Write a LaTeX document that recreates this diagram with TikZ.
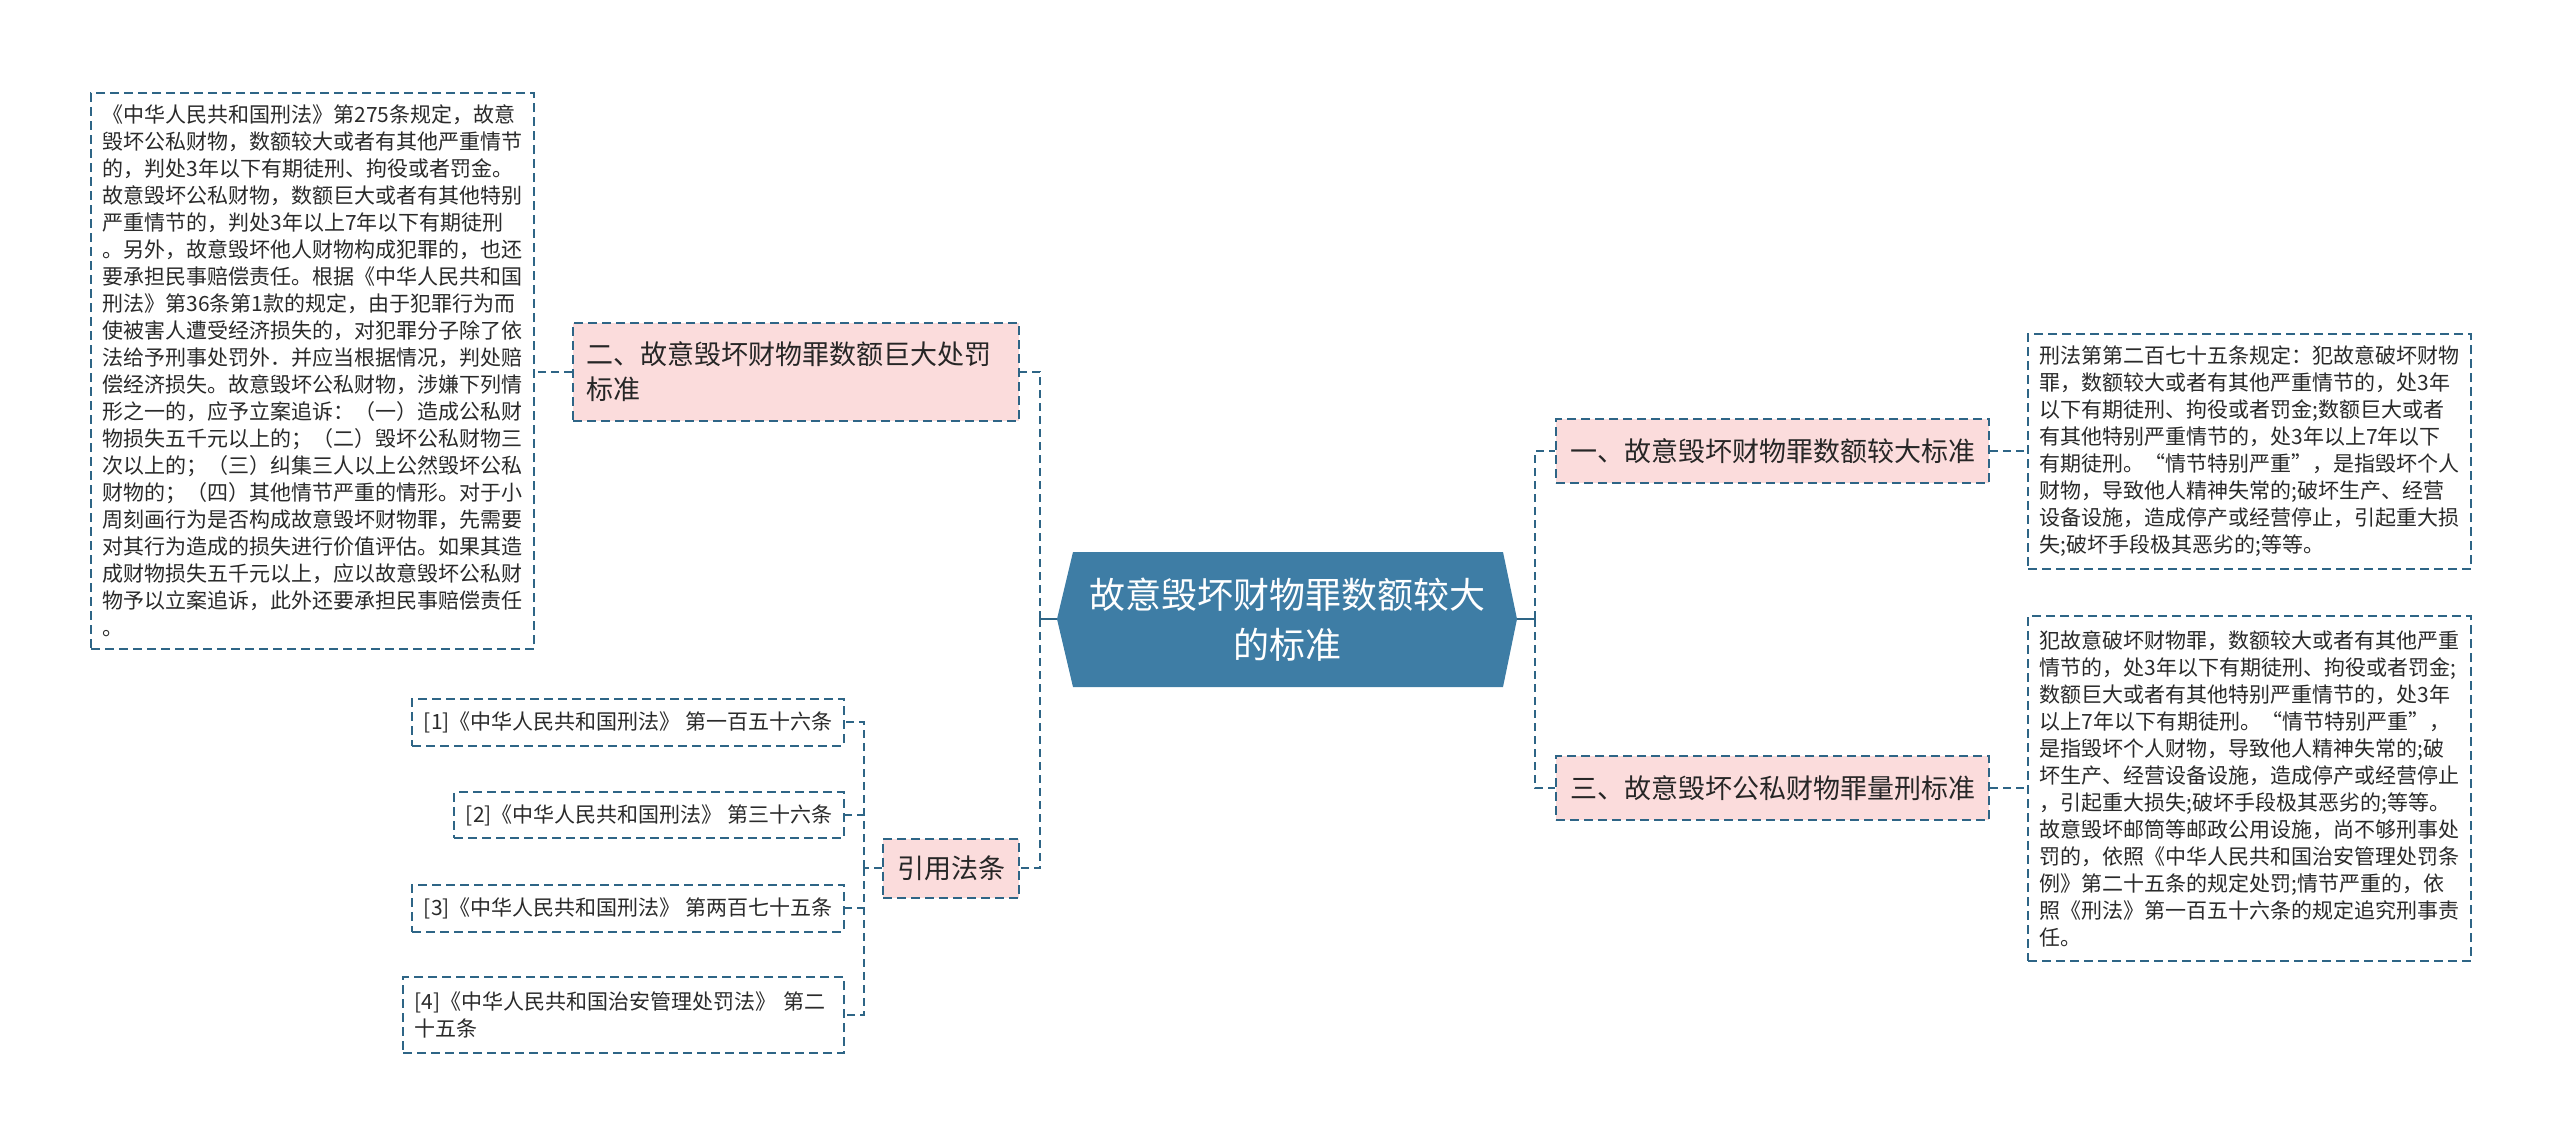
\documentclass[tikz,border=0pt]{standalone}
\usepackage{fontspec}
\setmainfont{Noto Sans CJK SC}
\usetikzlibrary{calc}
\definecolor{lineblue}{HTML}{2E6586}
\definecolor{centerfill}{HTML}{3E7DA5}
\definecolor{pinkfill}{HTML}{FBDCDC}
\definecolor{textgray}{HTML}{2A2A2A}
\tikzset{
  conn/.style={draw=lineblue, line width=2pt, dash pattern=on 8pt off 5pt},
  connsolid/.style={draw=lineblue, line width=2.5pt},
  leafbox/.style={draw=lineblue, line width=2pt, dash pattern=on 9pt off 5pt, fill=white,
    inner xsep=11.5pt, inner ysep=4pt, font=\fontsize{21}{27}\selectfont, text=textgray, align=left},
  topicbox/.style={draw=lineblue, line width=2pt, dash pattern=on 9pt off 5pt, fill=pinkfill,
    inner xsep=14pt, inner ysep=4pt, font=\fontsize{27}{35}\selectfont, text=black!85, align=left},
  centertext/.style={text=white, align=center, font=\fontsize{36}{50}\selectfont, inner sep=0pt},
}
\begin{document}
\begin{tikzpicture}[x=1pt,y=-1pt]
\useasboundingbox (0,0) rectangle (2560,1143);
% central hexagon
\coordinate (cl) at (1057,619);
\coordinate (ctl) at (1073,552);
\coordinate (ctr) at (1503,552);
\coordinate (cr) at (1517,619);
\coordinate (cbr) at (1503,687);
\coordinate (cbl) at (1073,687);
\fill[centerfill] (cl) -- (ctl) -- (ctr) -- (cr) -- (cbr) -- (cbl) -- cycle;
\node[centertext] (c) at (1287,620) {故意毁坏财物罪数额较大\\的标准};

% topic nodes
\node[topicbox, anchor=west, minimum height=64pt] (n1) at (1555,451) {一、故意毁坏财物罪数额较大标准};
\node[topicbox, anchor=west, minimum height=64pt] (n3) at (1555,788) {三、故意毁坏公私财物罪量刑标准};
\node[topicbox, anchor=north west, text width=420pt, minimum height=98pt, inner xsep=13pt] (n2) at (572,322) {二、故意毁坏财物罪数额巨大处罚\\标准};
\node[topicbox, anchor=east, minimum height=59pt] (nr) at (1020,868) {引用法条};

% leaf text boxes
\node[leafbox, anchor=north west, text width=420pt, minimum height=556pt] (t2) at (90,92) {《中华人民共和国刑法》第275条规定，故意\\
毁坏公私财物，数额较大或者有其他严重情节\\
的，判处3年以下有期徒刑、拘役或者罚金。\\
故意毁坏公私财物，数额巨大或者有其他特别\\
严重情节的，判处3年以上7年以下有期徒刑\\
。另外，故意毁坏他人财物构成犯罪的，也还\\
要承担民事赔偿责任。根据《中华人民共和国\\
刑法》第36条第1款的规定，由于犯罪行为而\\
使被害人遭受经济损失的，对犯罪分子除了依\\
法给予刑事处罚外．并应当根据情况，判处赔\\
偿经济损失。故意毁坏公私财物，涉嫌下列情\\
形之一的，应予立案追诉：（一）造成公私财\\
物损失五千元以上的；（二）毁坏公私财物三\\
次以上的；（三）纠集三人以上公然毁坏公私\\
财物的；（四）其他情节严重的情形。对于小\\
周刻画行为是否构成故意毁坏财物罪，先需要\\
对其行为造成的损失进行价值评估。如果其造\\
成财物损失五千元以上，应以故意毁坏公私财\\
物予以立案追诉，此外还要承担民事赔偿责任\\
。};

\node[leafbox, anchor=north west, text width=420pt, minimum height=235pt] (t1) at (2027,333) {刑法第第二百七十五条规定：犯故意破坏财物\\
罪，数额较大或者有其他严重情节的，处3年\\
以下有期徒刑、拘役或者罚金;数额巨大或者\\
有其他特别严重情节的，处3年以上7年以下\\
有期徒刑。“情节特别严重”，是指毁坏个人\\
财物，导致他人精神失常的;破坏生产、经营\\
设备设施，造成停产或经营停止，引起重大损\\
失;破坏手段极其恶劣的;等等。};

\node[leafbox, anchor=north west, text width=420pt, minimum height=345pt] (t3) at (2027,615) {犯故意破坏财物罪，数额较大或者有其他严重\\
情节的，处3年以下有期徒刑、拘役或者罚金;\\
数额巨大或者有其他特别严重情节的，处3年\\
以上7年以下有期徒刑。“情节特别严重”，\\
是指毁坏个人财物，导致他人精神失常的;破\\
坏生产、经营设备设施，造成停产或经营停止\\
，引起重大损失;破坏手段极其恶劣的;等等。\\
故意毁坏邮筒等邮政公用设施，尚不够刑事处\\
罚的，依照《中华人民共和国治安管理处罚条\\
例》第二十五条的规定处罚;情节严重的，依\\
照《刑法》第一百五十六条的规定追究刑事责\\
任。};

% reference boxes
\node[leafbox, anchor=east, minimum height=47pt] (r1) at (845,722) {[1]《中华人民共和国刑法》 第一百五十六条};
\node[leafbox, anchor=east, minimum height=46pt] (r2) at (845,815) {[2]《中华人民共和国刑法》 第三十六条};
\node[leafbox, anchor=east, minimum height=47pt] (r3) at (845,908) {[3]《中华人民共和国刑法》 第两百七十五条};
\node[leafbox, anchor=east, text width=418pt, minimum height=76pt] (r4) at (845,1015) {[4]《中华人民共和国治安管理处罚法》 第二\\十五条};

% connectors
\draw[connsolid] (cl) -- ++(-17,0) coordinate (jl);
\draw[conn] (jl) |- (n2.east);
\draw[conn] (jl) |- (nr.east);
\draw[connsolid] (cr) -- ++(18,0) coordinate (jr);
\draw[conn] (jr) |- (n1.west);
\draw[conn] (jr) |- (n3.west);
\draw[conn] (n2.west) -- (n2.west -| t2.east);
\draw[conn] (n1.east) -- (n1.east -| t1.west);
\draw[conn] (n3.east) -- (n3.east -| t3.west);
\draw[conn] (nr.west) -- ++(-18,0) coordinate (jref);
\draw[conn] (jref) |- (r1.east);
\draw[conn] (jref) |- (r2.east);
\draw[conn] (jref) |- (r3.east);
\draw[conn] (jref) |- (r4.east);
\end{tikzpicture}
\end{document}
